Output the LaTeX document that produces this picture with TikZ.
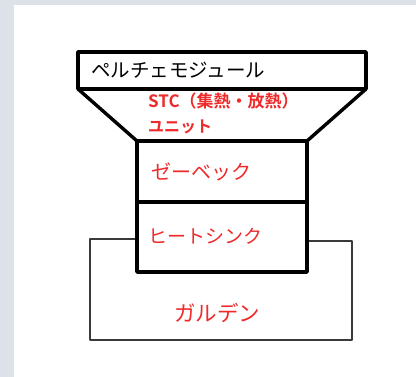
\documentclass[tikz,border=0pt]{standalone}
\usepackage{fontspec}
\setmainfont{Noto Sans CJK JP}
\newfontfamily\jpb{Noto Sans CJK JP}[BoldFont={* Bold}]
\definecolor{bgband}{HTML}{DCE2E8}
\definecolor{txtred}{HTML}{EE2A2A}
\definecolor{thinline}{HTML}{3A3A3A}
\tikzset{
  thickbox/.style={draw=black, line width=3.4pt, line join=round, fill=white, inner sep=0pt, minimum width=#1},
  thinline/.style={draw=thinline, line width=1.2pt},
  redlabel/.style={text=txtred, anchor=west, inner sep=0pt},
}
\begin{document}
\begin{tikzpicture}[x=1pt,y=-1pt]
\useasboundingbox (0,0) rectangle (416,377);
\fill[white] (0,0) rectangle (416,377);
\fill[bgband] (0,0) rectangle (416,5);
\fill[bgband] (0,0) rectangle (14,377);
% Garden outline
\coordinate (g1) at (137,239);
\coordinate (g2) at (90,239);
\coordinate (g3) at (90,340);
\coordinate (g4) at (352,340);
\coordinate (g5) at (352,241);
\coordinate (g6) at (307,241);
\draw[thinline, line join=round] (g1) -- (g2) -- (g3) -- (g4) -- (g5) -- (g6);
% Trapezoid
\coordinate (t1) at (78,89);
\coordinate (t2) at (366,89);
\coordinate (t3) at (137,141);
\coordinate (t4) at (307,141);
\draw[line width=3.4pt, line join=round, line cap=round] (t1) -- (t3) -- (t4) -- (t2);
% Boxes
\node[thickbox=288pt, minimum height=37pt] (peltier) at (222,70.5) {};
\node[thickbox=170pt, minimum height=61pt] (seebeck) at (222,171.5) {};
\node[thickbox=170pt, minimum height=70pt] (heatsink) at (222,237) {};
% Texts
\node[anchor=west, inner sep=0pt, font=\fontsize{19.5pt}{19.5pt}\selectfont] (tpel) at (91,70) {ペルチェモジュール};
\node[redlabel, font=\jpb\bfseries\fontsize{17pt}{17pt}\selectfont] (tstc) at (148,101) {STC（集熱・放熱）};
\node[redlabel, font=\jpb\bfseries\fontsize{16pt}{16pt}\selectfont] (tunit) at (148,127) {ユニット};
\node[redlabel, font=\fontsize{20pt}{20pt}\selectfont] (tsee) at (151,172) {ゼーベック};
\node[redlabel, font=\fontsize{19pt}{19pt}\selectfont] (thsk) at (148,236) {ヒートシンク};
\node[redlabel, font=\fontsize{21.5pt}{21.5pt}\selectfont] (tgar) at (174,313) {ガルデン};
\end{tikzpicture}
\end{document}
